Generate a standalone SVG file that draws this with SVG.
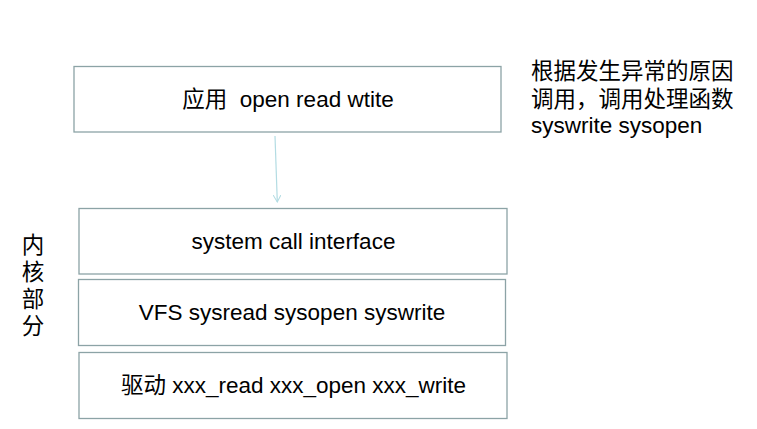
<svg xmlns="http://www.w3.org/2000/svg" width="757" height="429" viewBox="0 0 757 429">
<style>
.box{fill:#ffffff;stroke:#8ca3a6;stroke-width:1.3}
.t{font-family:"Liberation Sans","Noto Sans CJK SC",sans-serif;font-size:22.5px;fill:#000000}
.c{text-anchor:middle}
.conn{stroke:#b3dce3;stroke-width:1.2;fill:none}
</style>
<defs>
<marker id="arr" viewBox="0 0 10 10" refX="9" refY="5" markerWidth="8" markerHeight="8" markerUnits="userSpaceOnUse" orient="auto">
<path d="M0,0 L9,5 L0,10" fill="none" stroke="#b3dce3" stroke-width="1.3"/>
</marker>
</defs>
<rect width="757" height="429" fill="#ffffff"/>
<g id="app">
<rect class="box" x="74" y="66.5" width="427" height="65.5"/>
<text class="t c" x="288" y="107" xml:space="preserve" style="white-space:pre">应用  open read wtite</text>
</g>
<g id="syscall">
<rect class="box" x="79" y="208.5" width="428" height="65.5"/>
<text class="t c" x="293.5" y="249">system call interface</text>
</g>
<g id="vfs">
<rect class="box" x="78.5" y="279.5" width="427" height="66"/>
<text class="t c" x="292" y="319.5">VFS sysread sysopen syswrite</text>
</g>
<g id="driver">
<rect class="box" x="79" y="352.5" width="428" height="66"/>
<text class="t c" x="293.5" y="392.5">驱动 xxx_read xxx_open xxx_write</text>
</g>
<g id="kernel-label">
<text class="t c" x="33" y="253">内</text>
<text class="t c" x="33" y="280">核</text>
<text class="t c" x="33" y="307">部</text>
<text class="t c" x="33" y="334">分</text>
</g>
<g id="note">
<text class="t" x="531" y="79">根据发生异常的原因</text>
<text class="t" x="531" y="107">调用，调用处理函数</text>
<text class="t" x="531" y="133">syswrite sysopen</text>
</g>
<g id="connectors">
<line class="conn" x1="275" y1="136" x2="277.3" y2="202" marker-end="url(#arr)"/>
</g>
</svg>
